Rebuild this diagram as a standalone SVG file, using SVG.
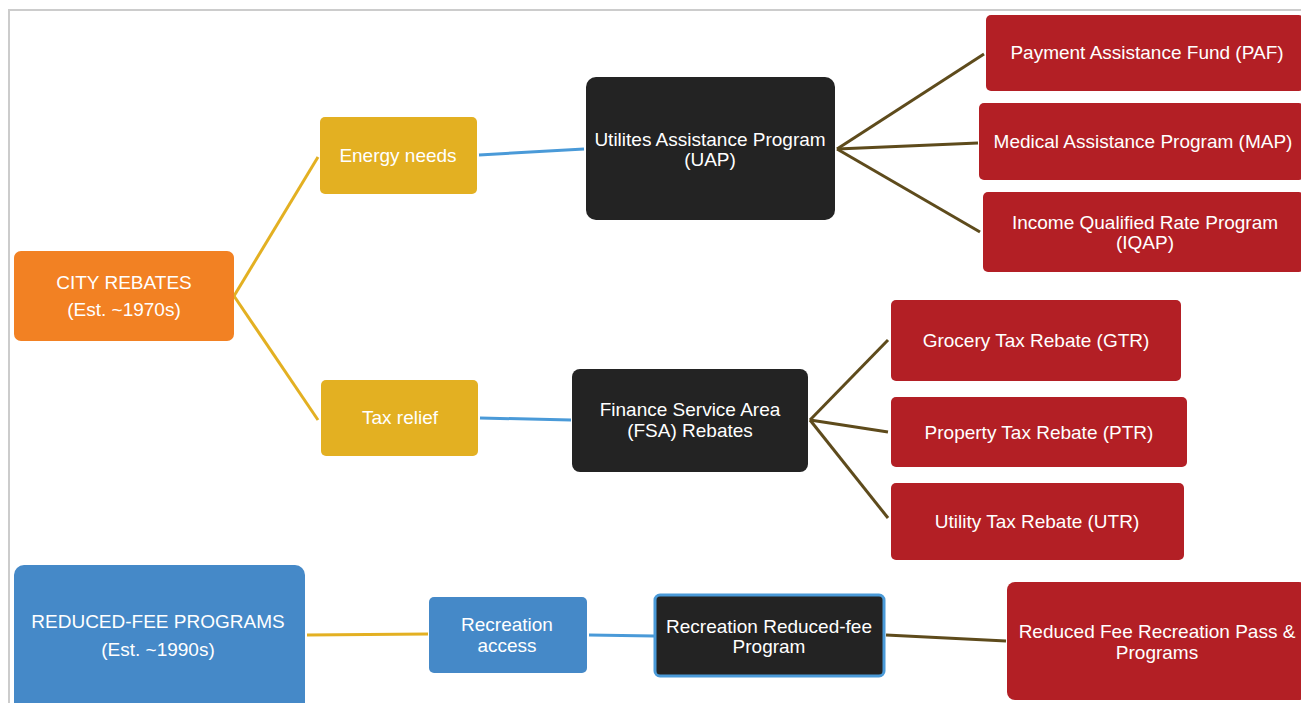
<svg xmlns="http://www.w3.org/2000/svg" width="1301" height="703" viewBox="0 0 1301 703">
<style>
text{font-family:"Liberation Sans",Arial,sans-serif;font-size:19px;fill:#fff;text-anchor:middle;dominant-baseline:central}
.gold{stroke:#e3b022;stroke-width:3;fill:none}
.blue{stroke:#4a9ad8;stroke-width:3;fill:none}
.brown{stroke:#5e4b1c;stroke-width:3;fill:none}
.root1{fill:#f28123}
.cat{fill:#e3b022}
.prog{fill:#232323}
.leaf{fill:#b31f25}
.root2{fill:#4589c8}
</style>
<rect x="0" y="0" width="1301" height="703" fill="#fff"/>
<path d="M9 703 V10 H1301" fill="none" stroke="#cccccc" stroke-width="2"/>
<g id="connectors">
<line class="gold" x1="234" y1="296" x2="318" y2="157"/>
<line class="gold" x1="234" y1="296" x2="318" y2="420"/>
<line class="blue" x1="479" y1="155" x2="584" y2="149"/>
<line class="blue" x1="480" y1="418" x2="571" y2="420"/>
<line class="brown" x1="837" y1="149" x2="984" y2="54"/>
<line class="brown" x1="837" y1="149" x2="978" y2="143"/>
<line class="brown" x1="837" y1="149" x2="980" y2="232"/>
<line class="brown" x1="810" y1="420" x2="888" y2="340"/>
<line class="brown" x1="810" y1="420" x2="888" y2="432"/>
<line class="brown" x1="810" y1="420" x2="888" y2="518"/>
<line class="gold" x1="307" y1="635" x2="428" y2="634"/>
<line class="blue" x1="589" y1="635" x2="654" y2="636"/>
<line class="brown" x1="886" y1="635" x2="1006" y2="641"/>
</g>
<g id="city-rebates"><rect class="root1" x="14" y="251" width="220" height="90" rx="7"/><text x="124" y="282">CITY REBATES</text><text x="124" y="309">(Est. ~1970s)</text></g>
<g id="energy-needs"><rect class="cat" x="320" y="117" width="157" height="77" rx="5"/><text x="398" y="155">Energy needs</text></g>
<g id="tax-relief"><rect class="cat" x="321" y="380" width="157" height="76" rx="5"/><text x="400" y="417">Tax relief</text></g>
<g id="uap"><rect class="prog" x="586" y="77" width="249" height="143" rx="10"/><text x="710" y="139">Utilites Assistance Program</text><text x="710" y="159">(UAP)</text></g>
<g id="paf"><rect class="leaf" x="986" y="15" width="318" height="76" rx="5"/><text x="1147" y="52">Payment Assistance Fund (PAF)</text></g>
<g id="map"><rect class="leaf" x="979" y="103" width="325" height="77" rx="5"/><text x="1143" y="141">Medical Assistance Program (MAP)</text></g>
<g id="iqap"><rect class="leaf" x="983" y="192" width="321" height="80" rx="5"/><text x="1145" y="222">Income Qualified Rate Program</text><text x="1145" y="242">(IQAP)</text></g>
<g id="fsa"><rect class="prog" x="572" y="369" width="236" height="103" rx="8"/><text x="690" y="409">Finance Service Area</text><text x="690" y="430">(FSA) Rebates</text></g>
<g id="gtr"><rect class="leaf" x="891" y="300" width="290" height="81" rx="5"/><text x="1036" y="340">Grocery Tax Rebate (GTR)</text></g>
<g id="ptr"><rect class="leaf" x="891" y="397" width="296" height="70" rx="5"/><text x="1039" y="432">Property Tax Rebate (PTR)</text></g>
<g id="utr"><rect class="leaf" x="891" y="483" width="293" height="77" rx="5"/><text x="1037" y="521">Utility Tax Rebate (UTR)</text></g>
<g id="reduced-fee"><rect class="root2" x="14" y="565" width="291" height="150" rx="10"/><text x="158" y="621">REDUCED-FEE PROGRAMS</text><text x="158" y="649">(Est. ~1990s)</text></g>
<g id="recreation-access"><rect class="root2" x="429" y="597" width="158" height="76" rx="5"/><text x="507" y="624">Recreation</text><text x="507" y="645">access</text></g>
<g id="recreation-program"><rect class="prog" x="655" y="595" width="229" height="81" rx="5" stroke="#4a9ad8" stroke-width="3"/><text x="769" y="626">Recreation Reduced-fee</text><text x="769" y="646">Program</text></g>
<g id="recreation-pass"><rect class="leaf" x="1007" y="582" width="300" height="118" rx="8"/><text x="1157" y="631">Reduced Fee Recreation Pass &amp;</text><text x="1157" y="652">Programs</text></g>
</svg>
